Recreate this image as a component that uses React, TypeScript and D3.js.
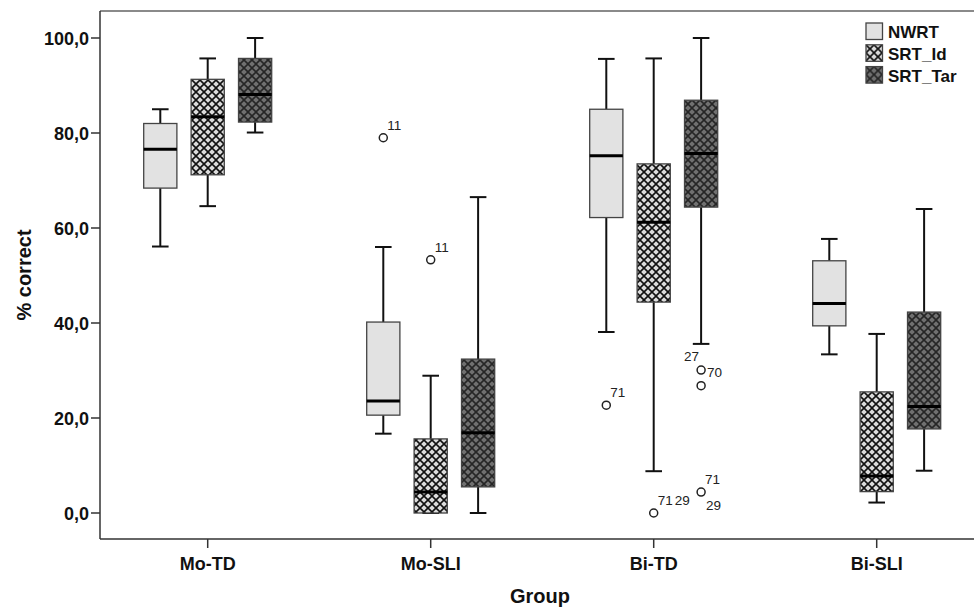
import React from 'react';
import * as d3 from 'd3';

const groups = ['Mo-TD', 'Mo-SLI', 'Bi-TD', 'Bi-SLI'];
const seriesNames = ['NWRT', 'SRT_Id', 'SRT_Tar'];

// five-number boxes per series, one entry per group: [whiskerLow, q1, median, q3, whiskerHigh]
const nwrtStats = [
  [56.1, 68.4, 76.6, 82.0, 85.0],
  [16.7, 20.6, 23.6, 40.2, 56.0],
  [38.1, 62.2, 75.2, 85.0, 95.6],
  [33.4, 39.4, 44.1, 53.1, 57.7],
];
const srtIdStats = [
  [64.6, 71.2, 83.4, 91.3, 95.7],
  [0.0, 0.0, 4.4, 15.6, 28.9],
  [8.8, 44.4, 61.2, 73.5, 95.7],
  [2.2, 4.5, 7.8, 25.5, 37.7],
];
const srtTarStats = [
  [80.1, 82.3, 88.1, 95.7, 100.0],
  [0.0, 5.5, 16.9, 32.4, 66.5],
  [35.6, 64.4, 75.7, 86.9, 100.0],
  [8.9, 17.7, 22.4, 42.3, 64.0],
];
const allStats = [nwrtStats, srtIdStats, srtTarStats];

// outliers: group, series, value, case labels with placement
const outliers = [
  { g: 'Mo-SLI', s: 'NWRT', v: 79.0, labels: [['11', 'ne']] },
  { g: 'Mo-SLI', s: 'SRT_Id', v: 53.3, labels: [['11', 'ne']] },
  { g: 'Bi-TD', s: 'NWRT', v: 22.7, labels: [['71', 'ne']] },
  { g: 'Bi-TD', s: 'SRT_Id', v: 0.0, labels: [['71', 'ne'], ['29', 'ne2']] },
  { g: 'Bi-TD', s: 'SRT_Tar', v: 30.1, labels: [['27', 'nw'], ['70', 'e']] },
  { g: 'Bi-TD', s: 'SRT_Tar', v: 26.8, labels: [] },
  { g: 'Bi-TD', s: 'SRT_Tar', v: 4.4, labels: [['71', 'ne'], ['29', 'se']] },
];

const yTicks = [0, 20, 40, 60, 80, 100];

const W = 974;
const H = 610;
const left = 100;
const top = 11;
const bottom = 539;
const font = 'Liberation Sans, Arial, sans-serif';

const labelOffset: Record<string, [number, number, string]> = {
  ne: [4, -8, 'start'],
  ne2: [21, -8, 'start'],
  e: [6, 7, 'start'],
  nw: [-2, -9, 'end'],
  se: [5, 18, 'start'],
};

export default function App() {
  const x = d3.scalePoint<string>().domain(groups).range([207.7, 876.7]);
  const y = d3.scaleLinear().domain([0, 100]).range([513, 38]);
  const inner = d3.scaleBand<string>().domain(seriesNames).range([-64, 64]).paddingInner(0.3).paddingOuter(0);
  const bw = inner.bandwidth();
  const fmt = (v: number) => d3.format('.1f')(v).replace('.', ',');

  const fills: Record<string, string> = {
    NWRT: '#e2e2e2',
    SRT_Id: 'url(#hatchLight)',
    SRT_Tar: 'url(#hatchDark)',
  };

  return (
    <svg width={W} height={H} style={{ position: 'absolute', left: 0, top: 0, background: '#fff' }}>
      <defs>
        <pattern id="hatchLight" patternUnits="userSpaceOnUse" width="8" height="8">
          <rect width="8" height="8" fill="#dcdcdc" />
          <path d="M0,0 L8,8 M8,0 L0,8" stroke="#111" strokeWidth="1.6" />
        </pattern>
        <pattern id="hatchDark" patternUnits="userSpaceOnUse" width="8" height="8">
          <rect width="8" height="8" fill="#707070" />
          <path d="M0,0 L8,8 M8,0 L0,8" stroke="#262626" strokeWidth="1.6" />
        </pattern>
      </defs>

      {/* frame */}
      <line x1={left} x2={W} y1={top} y2={top} stroke="#8a8a8a" strokeWidth={2} />
      <line x1={left} x2={left} y1={top} y2={bottom} stroke="#333" strokeWidth={1.5} />
      <line x1={left} x2={W} y1={bottom} y2={bottom} stroke="#333" strokeWidth={1.5} />

      {/* y axis */}
      {yTicks.map((t) => (
        <g key={t}>
          <line x1={left - 9} x2={left} y1={y(t)} y2={y(t)} stroke="#333" strokeWidth={1.5} />
          <text x={left - 11} y={y(t) + 6.5} textAnchor="end" fontFamily={font} fontWeight="bold" fontSize={18} fill="#111">
            {fmt(t)}
          </text>
        </g>
      ))}
      <text
        transform={`translate(31,${(top + bottom) / 2}) rotate(-90)`}
        textAnchor="middle"
        fontFamily={font}
        fontWeight="bold"
        fontSize={20}
        fill="#111"
      >
        % correct
      </text>

      {/* x axis */}
      {groups.map((g) => (
        <g key={g}>
          <line x1={x(g)} x2={x(g)} y1={bottom} y2={bottom + 9} stroke="#333" strokeWidth={1.5} />
          <text x={x(g)} y={bottom + 31} textAnchor="middle" fontFamily={font} fontWeight="bold" fontSize={18} fill="#111">
            {g}
          </text>
        </g>
      ))}
      <text x={540} y={603} textAnchor="middle" fontFamily={font} fontWeight="bold" fontSize={20} fill="#111">
        Group
      </text>

      {/* boxes */}
      {seriesNames.map((s, si) =>
        groups.map((g, gi) => {
          const [lo, q1, med, q3, hi] = allStats[si][gi];
          const x0 = (x(g) as number) + (inner(s) as number);
          const cx = x0 + bw / 2;
          const cap = bw / 2;
          return (
            <g key={s + g}>
              <line x1={cx} x2={cx} y1={y(hi)} y2={y(q3)} stroke="#111" strokeWidth={2} />
              <line x1={cx} x2={cx} y1={y(q1)} y2={y(lo)} stroke="#111" strokeWidth={2} />
              <line x1={cx - cap / 2} x2={cx + cap / 2} y1={y(hi)} y2={y(hi)} stroke="#111" strokeWidth={2} />
              <line x1={cx - cap / 2} x2={cx + cap / 2} y1={y(lo)} y2={y(lo)} stroke="#111" strokeWidth={2} />
              <rect x={x0} y={y(q3)} width={bw} height={y(q1) - y(q3)} fill={fills[s]} stroke="#444" strokeWidth={1.3} />
              <line x1={x0} x2={x0 + bw} y1={y(med)} y2={y(med)} stroke="#000" strokeWidth={3} />
            </g>
          );
        })
      )}

      {/* outliers */}
      {outliers.map((o, i) => {
        const cx = (x(o.g) as number) + (inner(o.s) as number) + bw / 2;
        const cy = y(o.v);
        return (
          <g key={i}>
            <circle cx={cx} cy={cy} r={4} fill="#fff" stroke="#222" strokeWidth={1.5} />
            {o.labels.map(([txt, pos]) => {
              const [dx, dy, anchor] = labelOffset[pos];
              return (
                <text key={txt + pos} x={cx + dx} y={cy + dy} textAnchor={anchor} fontFamily={font} fontSize={13.5} fill="#222">
                  {txt}
                </text>
              );
            })}
          </g>
        );
      })}

      {/* legend */}
      {seriesNames.map((s, i) => (
        <g key={s} transform={`translate(866,${23 + i * 21.8})`}>
          <rect width={16.5} height={16.5} fill={fills[s]} stroke="#444" strokeWidth={1.3} />
          <text x={22} y={15} fontFamily={font} fontWeight="bold" fontSize={17} fill="#111">
            {s}
          </text>
        </g>
      ))}
    </svg>
  );
}
